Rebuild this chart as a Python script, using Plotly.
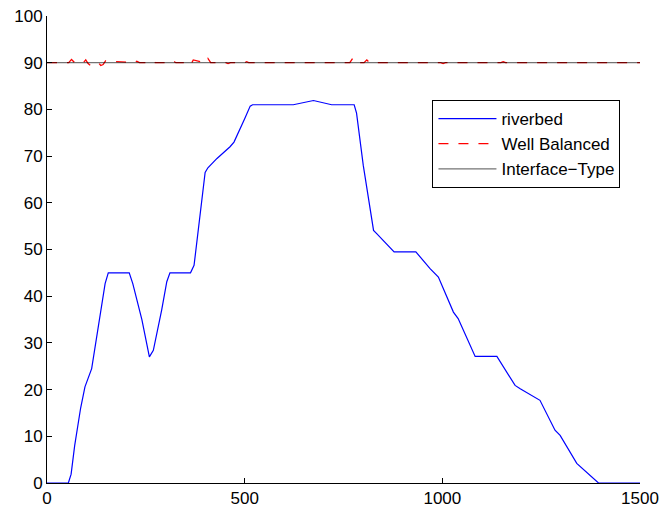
import plotly.graph_objects as go

# riverbed profile
river_x = [0, 54, 61, 70, 85, 96, 113, 130, 147, 155, 208, 217, 240, 259, 269, 290, 303, 311,
           363, 372, 385, 400, 407, 430, 463, 473, 500, 514, 520, 623, 674, 720, 777, 783, 800,
           826, 834, 878, 933, 969, 990, 1028, 1040, 1083, 1138, 1184, 1197, 1247, 1285, 1298,
           1340, 1350, 1395, 1500]
river_y = [0, 0, 1.9, 8, 16, 20.6, 24.5, 34, 42.7, 45, 45, 42.7, 35, 27.0, 28.4, 37, 43.1, 45,
           45, 46.6, 56, 66.5, 67.5, 69.5, 72, 73, 78, 80.7, 81, 81, 81.9, 81, 81, 79.2, 68,
           54.1, 53.4, 49.5, 49.5, 45.9, 44.1, 36.6, 35.2, 27.1, 27.1, 20.9, 20.2, 17.7, 11.3, 10.2,
           4.2, 3.4, 0, 0]

# well balanced surface (small wiggles around 90)
wb_x = [0, 55, 62, 70, 92, 98, 104, 110, 130, 136, 142, 148, 220, 227, 234, 262, 268, 274,
        314, 320, 326, 358, 364, 370, 400, 407, 414, 452, 458, 464, 500, 505, 510,
        766, 773, 780, 802, 809, 816, 996, 1002, 1008, 1148, 1154, 1160, 1500]
wb_y = [90, 90, 90.7, 90, 90, 90.6, 89.8, 89.4, 90, 89.4, 89.6, 90.4, 90, 90.3, 90, 90, 90.3, 90,
        90, 90.3, 90, 90, 89.6, 90.6, 90, 90.9, 90, 90, 89.8, 90, 90, 90.2, 90,
        90, 90.9, 90, 90, 90.6, 90, 90, 89.8, 90, 90, 90.2, 90, 90]

# interface-type surface
it_x = [0, 1500]
it_y = [90, 90]

fig = go.Figure()
fig.add_trace(go.Scatter(x=river_x, y=river_y, mode="lines", name="riverbed",
                         line=dict(color="#0000ff", width=1.2)))
fig.add_trace(go.Scatter(x=wb_x, y=wb_y, mode="lines", name="Well Balanced",
                         line=dict(color="#ff0000", width=1.3, dash="10px,10px")))
fig.add_trace(go.Scatter(x=it_x, y=it_y, mode="lines", name="Interface\u2212Type",
                         line=dict(color="rgba(0,0,0,0.55)", width=1.2)))

axis_common = dict(showline=True, linecolor="black", linewidth=1, ticks="inside", ticklen=5,
                   tickcolor="black", showgrid=False, zeroline=False, mirror=False,
                   automargin=False,
                   tickfont=dict(family="Liberation Sans, Arial, sans-serif", size=17, color="black"))

fig.update_xaxes(range=[0, 1500], tickvals=[0, 500, 1000, 1500], **axis_common)
fig.update_yaxes(range=[0, 100], tickvals=list(range(0, 101, 10)), **axis_common)

fig.update_layout(
    width=662, height=513,
    margin=dict(l=47, r=22, t=16, b=30, autoexpand=False),
    plot_bgcolor="white", paper_bgcolor="white",
    showlegend=True,
    legend=dict(x=0.65, y=0.82, xanchor="left", yanchor="top",
                bgcolor="white", bordercolor="black", borderwidth=1,
                itemwidth=58,
                font=dict(family="Liberation Sans, Arial, sans-serif", size=17, color="black"),
                tracegroupgap=0),
)

fig.write_html("out.html")
